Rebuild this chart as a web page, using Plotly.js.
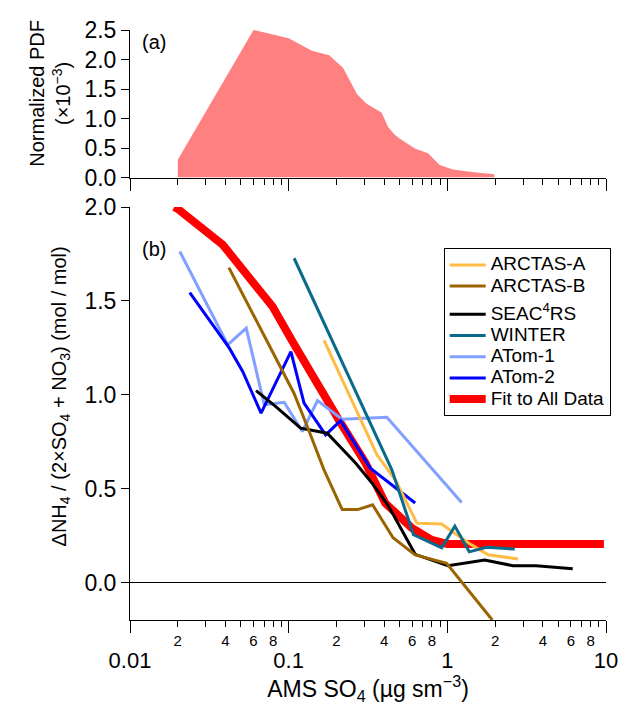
<!DOCTYPE html>
<html>
<head>
<meta charset="utf-8">
<script src="https://cdn.plot.ly/plotly-3.0.1.min.js"></script>
</head>
<body style="margin:0;background:#fff">
<div id="chart" style="width:623px;height:705px"></div>
<script>
// ---- Panel (a): normalized PDF of AMS SO4 (x10^-3)
const pdfX = [0.02, 0.06, 0.1, 0.14, 0.18, 0.22, 0.27, 0.31, 0.385, 0.424, 0.468, 0.5, 0.624, 0.756, 0.895, 1.085, 1.38, 1.98];
const pdfY = [0.3, 2.5, 2.36, 2.15, 2.07, 1.86, 1.41, 1.25, 1.1, 0.85, 0.72, 0.66, 0.49, 0.41, 0.21, 0.136, 0.096, 0.057];

// ---- Panel (b): ΔNH4/(2×SO4+NO3) vs AMS SO4
const arctasAX = [0.167, 0.36, 0.47, 0.643, 0.92, 1.42, 1.81, 2.79];
const arctasAY = [1.29, 0.68, 0.547, 0.316, 0.311, 0.2, 0.147, 0.125];

const arctasBX = [0.042, 0.108, 0.131, 0.167, 0.2175, 0.272, 0.338, 0.455, 0.627, 0.99, 1.92];
const arctasBY = [1.677, 1.008, 0.831, 0.6, 0.388, 0.388, 0.414, 0.238, 0.147, 0.102, -0.2];

const seacX = [0.0623, 0.083, 0.119, 0.152, 0.175, 0.264, 0.335, 0.427, 0.627, 1.01, 1.72, 2.59, 3.63, 6.17];
const seacY = [1.022, 0.937, 0.822, 0.804, 0.795, 0.636, 0.53, 0.405, 0.15, 0.089, 0.12, 0.089, 0.089, 0.073];

const winterX = [0.1082, 0.447, 0.612, 0.921, 1.115, 1.375, 1.765, 2.66];
const winterY = [1.727, 0.6, 0.254, 0.185, 0.3, 0.163, 0.187, 0.178];

const atom1X = [0.0206, 0.0413, 0.054, 0.0702, 0.0937, 0.122, 0.152, 0.217, 0.3, 0.416, 1.23];
const atom1Y = [1.763, 1.266, 1.355, 0.946, 0.96, 0.804, 0.969, 0.87, 0.875, 0.88, 0.426];

const atom2X = [0.0238, 0.0423, 0.0513, 0.067, 0.1033, 0.125, 0.171, 0.2124, 0.327, 0.627];
const atom2Y = [1.544, 1.248, 1.124, 0.902, 1.23, 0.955, 0.786, 0.862, 0.609, 0.423];

const fitX = [0.019, 0.02, 0.0385, 0.0791, 0.1057, 0.134, 0.207, 0.305, 0.406, 0.597, 0.797, 1.0, 2.0, 5.0, 9.7];
const fitY = [2.0, 1.99, 1.798, 1.47, 1.283, 1.13, 0.866, 0.636, 0.423, 0.29, 0.227, 0.205, 0.205, 0.205, 0.205];

const majorTicks = [0.01, 0.1, 1, 10];
const majorLabels = ['0.01', '0.1', '1', '10'];
const minorTicks = [0.02,0.03,0.04,0.05,0.06,0.07,0.08,0.09,0.2,0.3,0.4,0.5,0.6,0.7,0.8,0.9,2,3,4,5,6,7,8,9];
const minorLabelVals = [0.02,0.04,0.06,0.08,0.2,0.4,0.6,0.8,2,4,6,8];
const minorLabelText = ['2','4','6','8','2','4','6','8','2','4','6','8'];

const colors = {
  arctasA: '#ffbb44', arctasB: '#9a6400', seac: '#000000', winter: '#0b6a8c',
  atom1: '#82a0ff', atom2: '#0000ff', fit: '#ff0000', pdf: '#ff8080'
};

function lbl(t) { return '<span style="font-size:19px">' + t + '</span>'; }

function line(x, y, name, color, width, rank, group, xa) {
  return { x: x, y: y, name: lbl(name), type: 'scatter', mode: 'lines', xaxis: xa || 'x', yaxis: 'y',
           line: { color: color, width: width }, legendrank: rank, legendgroup: group, hoverinfo: 'skip' };
}

const data = [
  { x: pdfX, y: pdfY, type: 'scatter', mode: 'none', fill: 'tozeroy', fillcolor: colors.pdf,
    xaxis: 'x2', yaxis: 'y2', showlegend: false, hoverinfo: 'skip' },
  line(fitX, fitY, 'Fit to All Data', colors.fit, 8, 7, 'g2'),
  line(atom1X, atom1Y, 'ATom-1', colors.atom1, 3, 5, 'g2'),
  line(atom2X, atom2Y, 'ATom-2', colors.atom2, 3, 6, 'g2'),
  line(arctasAX, arctasAY, 'ARCTAS-A', colors.arctasA, 3, 1, 'g1'),
  line(winterX, winterY, 'WINTER', colors.winter, 3, 4, 'g2'),
  line(seacX, seacY, 'SEAC<sup>4</sup>RS', colors.seac, 3, 3, 'g2'),
  // drawn on the overlaying axis x3 (identical log scale) so that its labels are rendered
  line(arctasBX, arctasBY, 'ARCTAS-B', colors.arctasB, 3, 2, 'g1', 'x3')
];

const logAxisBase = {
  type: 'log', range: [-2, 1], domain: [0, 1],
  showline: true, linecolor: '#000', linewidth: 1,
  ticks: 'outside', ticklen: 12, tickwidth: 1, tickcolor: '#000',
  tickmode: 'array', tickvals: majorTicks,
  showgrid: false, zeroline: false,
  minor: { tickmode: 'array', tickvals: minorTicks, ticks: 'outside', ticklen: 6, tickcolor: '#000', showgrid: false }
};

const layout = {
  width: 623, height: 705,
  paper_bgcolor: '#fff', plot_bgcolor: '#fff',
  font: { family: 'Liberation Sans, Arial, sans-serif', size: 20, color: '#000' },
  margin: { l: 130, r: 14, t: 30, b: 85 },
  showlegend: true,
  legend: { x: 0.659, y: 0.63, xanchor: 'left', yanchor: 'top', bordercolor: '#000', borderwidth: 1,
            bgcolor: '#fff', font: { size: 14 }, tracegroupgap: 7, itemwidth: 36, traceorder: 'grouped' },
  xaxis: Object.assign({}, logAxisBase, {
    anchor: 'y', ticktext: majorLabels, tickfont: { size: 22 }, ticklabelstandoff: 9,
    title: { text: 'AMS SO<sub>4</sub> (µg sm<sup>−3</sup>)', font: { size: 23 }, standoff: 10 }
  }),
  xaxis3: {
    type: 'log', range: [-2, 1], overlaying: 'x', anchor: 'y', side: 'bottom',
    tickmode: 'array', tickvals: minorLabelVals, ticktext: minorLabelText, tickfont: { size: 15 },
    ticks: '', showline: false, showgrid: false, zeroline: false, ticklabelstandoff: 10
  },
  xaxis2: Object.assign({}, logAxisBase, { anchor: 'y2', showticklabels: false }),
  yaxis: {
    domain: [0, 0.7], range: [-0.2, 2.0], anchor: 'x',
    tickmode: 'array', tickvals: [0, 0.5, 1, 1.5, 2], tickformat: '.1f', tickfont: { size: 23 },
    showline: true, linecolor: '#000', linewidth: 1,
    ticks: 'outside', ticklen: 8, tickcolor: '#000', ticklabelstandoff: 0,
    showgrid: false, zeroline: true, zerolinecolor: '#000', zerolinewidth: 1
  },
  yaxis2: {
    domain: [0.75, 1], range: [0, 2.5], anchor: 'x2',
    tickmode: 'array', tickvals: [0, 0.5, 1, 1.5, 2, 2.5], tickformat: '.1f', tickfont: { size: 23 },
    showline: true, linecolor: '#000', linewidth: 1,
    ticks: 'outside', ticklen: 8, tickcolor: '#000', ticklabelstandoff: 0,
    showgrid: false, zeroline: false
  },
  annotations: [
    { text: '(a)', xref: 'paper', yref: 'paper', x: 0.05, y: 0.979, xanchor: 'center', yanchor: 'middle',
      showarrow: false, font: { size: 20 } },
    { text: '(b)', xref: 'paper', yref: 'paper', x: 0.05, y: 0.629, xanchor: 'center', yanchor: 'middle',
      showarrow: false, font: { size: 20 } },
    // y-axis titles
    { text: 'Normalized PDF<br>(×10<sup>−3</sup>)', xref: 'paper', yref: 'paper', x: -0.168, y: 0.892,
      xanchor: 'center', yanchor: 'middle', textangle: -90, showarrow: false, font: { size: 20 } },
    { text: 'ΔNH<sub>4</sub> / (2×SO<sub>4</sub> + NO<sub>3</sub>) (mol / mol)', xref: 'paper', yref: 'paper',
      x: -0.146, y: 0.378, xanchor: 'center', yanchor: 'middle', textangle: -90, showarrow: false, font: { size: 20 } }
  ]
};

Plotly.newPlot('chart', data, layout, { displayModeBar: false, staticPlot: true });
</script>
</body>
</html>
